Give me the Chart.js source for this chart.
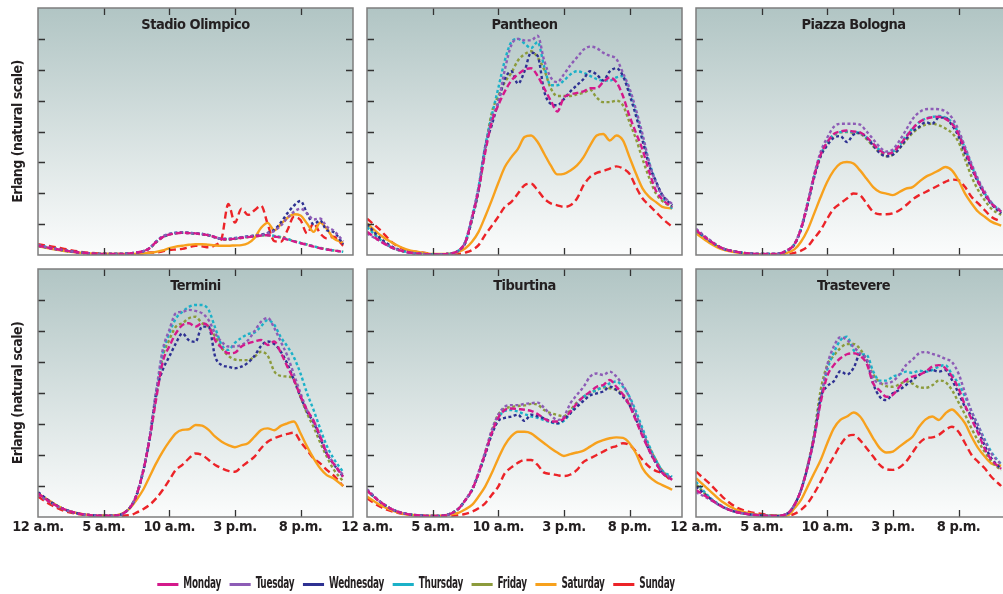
<!DOCTYPE html>
<html>
<head>
<meta charset="utf-8">
<script src="https://cdn.jsdelivr.net/npm/chart.js@4.4.1/dist/chart.umd.min.js"></script>
<style>
  html, body { margin: 0; padding: 0; background: #fff; }
  body { width: 1003px; height: 594px; overflow: hidden; position: relative; }
  canvas { position: absolute; }
</style>
</head>
<body>
<script>
// hour of day for every sample
const hours = [0, 1, 2, 3, 4, 5, 6, 7, 7.5, 8, 8.5, 9, 9.5, 10, 10.5, 11, 11.5, 12, 12.5, 13,
  13.5, 14, 14.5, 15, 15.5, 16, 16.5, 17, 17.5, 18, 18.5, 19, 19.5, 20, 20.5, 21, 21.5, 22, 22.5, 23.25];
const tickHours = [0, 5, 10, 15, 20];
const tickLabels = ['12 a.m.', '5 a.m.', '10 a.m.', '3 p.m.', '8 p.m.'];
const yTicks = [1, 2, 3, 4, 5, 6, 7];

const days = ['Monday', 'Tuesday', 'Wednesday', 'Thursday', 'Friday', 'Saturday', 'Sunday'];
const dayColors = ['#d4198b', '#8d5cb6', '#2e3192', '#1bb1c8', '#8c9b3c', '#f7a11d', '#ec2328'];
const dayDashes = [[6, 3], [3, 2.5], [3, 2.5], [3, 2.5], [3, 2.5], [], [7, 4]];

// Erlang values, one row per day (Monday .. Sunday)
const stadioOlimpico = [
  [0.3,0.22,0.15,0.09,0.05,0.03,0.03,0.05,0.08,0.12, 0.22,0.42,0.58,0.66,0.7,0.72,0.71,0.7,0.67,0.64, 0.58,0.52,0.51,0.53,0.56,0.58,0.6,0.63,0.64,0.6, 0.56,0.5,0.44,0.38,0.33,0.27,0.22,0.18,0.15,0.1],
  [0.31,0.22,0.15,0.09,0.05,0.03,0.03,0.05,0.08,0.12, 0.22,0.43,0.6,0.68,0.72,0.73,0.72,0.7,0.68,0.64, 0.57,0.52,0.52,0.54,0.57,0.6,0.63,0.65,0.7,0.78, 0.95,1.2,1.4,1.5,1.35,1.15,1.18,0.92,0.8,0.45],
  [0.3,0.22,0.15,0.09,0.05,0.03,0.03,0.05,0.08,0.12, 0.22,0.42,0.58,0.67,0.71,0.72,0.71,0.7,0.68,0.64, 0.57,0.52,0.52,0.54,0.57,0.6,0.63,0.66,0.72,0.82, 1.05,1.35,1.6,1.75,1.35,1.0,1.12,0.8,0.75,0.35],
  [0.32,0.23,0.15,0.09,0.05,0.03,0.03,0.05,0.08,0.12, 0.22,0.44,0.6,0.68,0.72,0.74,0.72,0.7,0.68,0.65, 0.58,0.52,0.52,0.55,0.58,0.6,0.62,0.65,0.65,0.62, 0.58,0.52,0.45,0.39,0.34,0.28,0.23,0.18,0.15,0.1],
  [0.3,0.22,0.14,0.09,0.05,0.03,0.03,0.05,0.08,0.12, 0.21,0.41,0.57,0.66,0.7,0.72,0.71,0.69,0.67,0.64, 0.57,0.51,0.5,0.52,0.55,0.58,0.61,0.63,0.64,0.61, 0.57,0.51,0.45,0.39,0.34,0.28,0.23,0.19,0.15,0.11],
  [0.28,0.2,0.13,0.08,0.05,0.03,0.03,0.03,0.04,0.05, 0.07,0.1,0.15,0.22,0.27,0.3,0.33,0.35,0.35,0.33, 0.31,0.3,0.3,0.31,0.32,0.38,0.55,0.88,1.04,0.8, 1.0,1.2,1.32,1.28,1.02,0.75,1.05,0.85,0.55,0.4],
  [0.35,0.28,0.2,0.12,0.07,0.04,0.03,0.03,0.04,0.05, 0.08,0.08,0.12,0.16,0.18,0.2,0.25,0.3,0.28,0.25, 0.32,0.55,1.65,1.05,1.5,1.3,1.45,1.6,1.0,0.45, 0.43,0.8,1.24,1.13,0.7,1.02,0.7,0.54,0.59,0.3]
];
const pantheon = [
  [0.75,0.45,0.22,0.1,0.04,0.02,0.03,0.15,0.42,1.2, 2.1,3.3,4.3,4.85,5.3,5.65,5.85,6.0,6.05,5.8, 5.4,5.0,4.65,5.1,5.2,5.25,5.3,5.4,5.4,5.6, 5.75,5.6,5.15,4.5,3.95,3.4,2.7,2.1,1.8,1.55],
  [0.7,0.45,0.22,0.1,0.04,0.02,0.03,0.15,0.45,1.25, 2.2,3.45,4.4,4.95,6.0,6.8,7.0,6.95,6.95,7.1, 6.3,5.75,5.6,5.85,6.15,6.4,6.65,6.75,6.7,6.55, 6.45,6.35,5.9,5.4,4.7,3.9,3.0,2.35,1.95,1.65],
  [1.0,0.55,0.25,0.1,0.04,0.02,0.03,0.15,0.4,1.15, 2.1,3.5,4.2,4.95,5.7,5.95,5.55,5.95,6.55,6.45, 5.3,4.9,4.85,5.05,5.3,5.5,5.7,5.95,5.85,5.65, 5.95,6.05,5.8,5.2,4.5,3.7,2.9,2.4,1.95,1.6],
  [0.9,0.5,0.22,0.1,0.04,0.02,0.03,0.15,0.45,1.2, 2.2,3.5,4.5,5.4,6.3,6.9,7.0,6.85,6.7,6.9, 6.1,5.5,5.5,5.65,5.85,5.95,5.9,5.8,5.7,5.65, 5.65,5.75,5.8,5.3,4.6,3.8,3.0,2.4,1.9,1.5],
  [0.95,0.5,0.22,0.1,0.04,0.02,0.03,0.15,0.4,1.15, 2.1,3.4,4.6,5.15,5.6,5.9,6.3,6.5,6.6,6.4, 6.0,5.4,5.15,5.15,5.15,5.2,5.25,5.35,5.1,4.95, 4.95,5.0,4.85,4.3,3.75,3.1,2.5,2.0,1.75,1.55],
  [1.02,0.65,0.38,0.18,0.09,0.03,0.03,0.11,0.22,0.43, 0.75,1.24,1.77,2.33,2.85,3.17,3.44,3.82,3.87,3.66, 3.28,2.9,2.61,2.63,2.74,2.9,3.17,3.55,3.87,3.92, 3.71,3.87,3.71,3.17,2.63,2.15,1.88,1.72,1.56,1.51],
  [1.18,0.81,0.38,0.16,0.09,0.03,0.0,0.03,0.08,0.16, 0.32,0.65,0.94,1.24,1.56,1.72,1.99,2.26,2.31,2.1, 1.83,1.67,1.61,1.56,1.61,1.83,2.26,2.53,2.66,2.72, 2.8,2.87,2.8,2.63,2.2,1.83,1.61,1.4,1.18,0.91]
];
const piazzaBologna = [
  [0.8,0.48,0.22,0.11,0.05,0.03,0.03,0.16,0.35,0.85, 1.65,2.55,3.25,3.65,3.92,4.0,4.03,4.0,3.97,3.82, 3.6,3.39,3.28,3.33,3.55,3.82,4.09,4.3,4.41,4.46, 4.48,4.41,4.25,3.92,3.39,2.85,2.37,1.99,1.67,1.4],
  [0.85,0.5,0.22,0.11,0.05,0.03,0.03,0.16,0.36,0.88, 1.7,2.6,3.35,3.8,4.15,4.25,4.25,4.25,4.22,4.0, 3.75,3.5,3.35,3.42,3.7,4.05,4.4,4.62,4.72,4.73, 4.72,4.65,4.45,4.05,3.5,2.95,2.45,2.05,1.7,1.42],
  [0.82,0.48,0.22,0.11,0.05,0.03,0.03,0.16,0.34,0.83, 1.62,2.5,3.2,3.55,3.8,3.85,3.66,3.9,3.95,3.8, 3.55,3.3,3.2,3.25,3.45,3.75,4.0,4.15,4.3,4.25, 4.45,4.45,4.2,3.85,3.3,2.8,2.35,1.95,1.65,1.35],
  [0.78,0.47,0.22,0.11,0.05,0.03,0.03,0.16,0.35,0.85, 1.65,2.55,3.25,3.65,3.9,3.98,4.0,3.98,3.95,3.8, 3.6,3.4,3.3,3.35,3.55,3.85,4.1,4.3,4.42,4.47, 4.5,4.45,4.3,3.95,3.45,2.9,2.4,2.0,1.7,1.4],
  [0.8,0.48,0.22,0.11,0.05,0.03,0.03,0.16,0.35,0.85, 1.65,2.55,3.22,3.62,3.88,3.97,3.98,3.96,3.93,3.75, 3.52,3.32,3.2,3.25,3.45,3.7,3.95,4.12,4.22,4.25, 4.2,4.1,3.95,3.66,3.1,2.53,2.1,1.77,1.5,1.3],
  [0.7,0.4,0.18,0.09,0.03,0.02,0.02,0.08,0.18,0.43, 0.81,1.34,1.88,2.37,2.74,2.96,3.01,2.96,2.74,2.47, 2.2,2.04,1.99,1.94,2.04,2.15,2.2,2.37,2.53,2.63, 2.74,2.85,2.74,2.42,1.99,1.67,1.4,1.24,1.08,0.95],
  [0.75,0.43,0.22,0.11,0.05,0.02,0.0,0.03,0.07,0.14, 0.27,0.54,0.81,1.18,1.5,1.67,1.83,1.99,1.94,1.67, 1.4,1.32,1.32,1.35,1.45,1.61,1.8,1.94,2.04,2.15, 2.26,2.37,2.44,2.42,2.2,1.88,1.67,1.45,1.24,1.08]
];
const termini = [
  [0.76,0.46,0.25,0.12,0.06,0.04,0.05,0.3,0.7,1.45, 2.5,3.8,5.0,5.5,5.92,6.19,6.25,6.14,6.25,6.14, 5.7,5.45,5.28,5.3,5.5,5.6,5.66,5.71,5.55,5.66, 5.3,4.85,4.42,3.9,3.45,3.1,2.6,2.05,1.73,1.3],
  [0.72,0.45,0.25,0.12,0.06,0.04,0.05,0.3,0.72,1.5, 2.6,4.05,5.39,6.03,6.57,6.62,6.68,6.65,6.57,6.35, 5.92,5.65,5.5,5.5,5.55,5.7,6.0,6.3,6.42,6.1, 5.65,5.2,4.6,4.0,3.45,3.1,2.6,2.1,1.75,1.35],
  [0.8,0.48,0.25,0.12,0.06,0.04,0.05,0.3,0.7,1.45, 2.5,4.0,4.74,5.17,5.6,5.92,5.7,5.65,6.14,6.14, 5.17,4.9,4.85,4.8,4.85,4.98,5.2,5.52,5.66,5.58, 5.33,4.94,4.42,3.88,3.4,3.05,2.55,2.05,1.72,1.3],
  [0.78,0.47,0.25,0.12,0.06,0.04,0.05,0.3,0.7,1.45, 2.55,3.9,5.28,5.92,6.4,6.62,6.78,6.84,6.84,6.68, 6.1,5.55,5.39,5.62,5.78,5.9,5.95,6.15,6.35,6.2, 5.8,5.5,5.15,4.63,3.99,3.45,2.85,2.3,1.9,1.45],
  [0.74,0.45,0.24,0.12,0.06,0.04,0.05,0.3,0.7,1.45, 2.55,3.9,5.17,5.71,6.14,6.25,6.41,6.46,6.25,6.14, 5.82,5.45,5.2,5.08,5.06,5.06,5.17,5.33,5.2,4.7, 4.55,4.53,4.45,3.88,3.34,2.9,2.4,1.95,1.55,1.15],
  [0.76,0.49,0.25,0.12,0.06,0.04,0.06,0.28,0.55,0.87, 1.3,1.73,2.11,2.43,2.7,2.81,2.83,2.97,2.95,2.81, 2.59,2.43,2.32,2.25,2.32,2.38,2.59,2.81,2.86,2.8, 2.94,3.02,3.08,2.7,2.27,1.89,1.57,1.35,1.25,1.0],
  [0.66,0.39,0.2,0.1,0.05,0.04,0.04,0.06,0.14,0.25, 0.39,0.6,0.87,1.19,1.52,1.68,1.89,2.05,2.0,1.84, 1.68,1.57,1.49,1.46,1.62,1.78,1.95,2.22,2.43,2.54, 2.62,2.68,2.72,2.43,2.16,1.89,1.73,1.52,1.35,1.0]
];
const tiburtina = [
  [0.85,0.49,0.23,0.1,0.05,0.03,0.06,0.28,0.55,0.87, 1.41,2.05,2.7,3.2,3.45,3.5,3.48,3.46,3.42,3.32, 3.18,3.08,3.08,3.18,3.4,3.67,3.88,4.04,4.2,4.26, 4.42,4.2,3.95,3.6,3.1,2.6,2.15,1.75,1.42,1.2],
  [0.9,0.5,0.23,0.1,0.05,0.03,0.06,0.28,0.55,0.9, 1.45,2.1,2.8,3.3,3.56,3.61,3.61,3.65,3.67,3.69, 3.52,3.29,3.13,3.24,3.67,3.94,4.2,4.53,4.63,4.58, 4.69,4.53,4.25,3.85,3.3,2.75,2.2,1.8,1.45,1.25],
  [0.87,0.49,0.23,0.1,0.05,0.03,0.06,0.28,0.55,0.87, 1.4,2.0,2.65,3.1,3.2,3.24,3.3,3.1,3.3,3.25, 3.18,3.08,3.02,3.15,3.35,3.56,3.75,3.92,3.99,4.05, 4.2,4.1,3.88,3.61,3.15,2.65,2.15,1.75,1.42,1.25],
  [0.85,0.49,0.23,0.1,0.05,0.03,0.06,0.28,0.55,0.87, 1.41,2.05,2.7,3.2,3.42,3.45,3.4,3.32,3.25,3.2, 3.12,3.05,3.02,3.1,3.35,3.65,3.88,4.0,4.1,4.2, 4.31,4.37,4.2,3.88,3.4,2.85,2.3,1.85,1.5,1.3],
  [0.85,0.49,0.23,0.1,0.05,0.03,0.06,0.28,0.55,0.87, 1.41,2.05,2.75,3.3,3.5,3.55,3.58,3.6,3.65,3.62, 3.45,3.35,3.29,3.25,3.45,3.7,3.88,3.99,4.1,4.18, 4.15,4.1,3.95,3.65,3.24,2.75,2.25,1.85,1.5,1.2],
  [0.66,0.39,0.2,0.08,0.05,0.03,0.06,0.14,0.25,0.39, 0.66,0.98,1.41,1.89,2.32,2.61,2.75,2.75,2.7,2.54, 2.38,2.22,2.08,1.97,2.03,2.08,2.14,2.27,2.4,2.48, 2.54,2.57,2.55,2.38,2.05,1.57,1.3,1.14,1.03,0.88],
  [0.6,0.33,0.17,0.08,0.05,0.03,0.03,0.06,0.1,0.17, 0.28,0.44,0.71,0.98,1.41,1.6,1.75,1.84,1.84,1.68, 1.43,1.39,1.35,1.32,1.37,1.52,1.78,1.89,2.0,2.11, 2.22,2.29,2.38,2.32,2.11,1.84,1.62,1.49,1.41,1.15]
];
const trastevere = [
  [0.87,0.6,0.33,0.17,0.09,0.05,0.03,0.12,0.39,0.87, 1.62,2.55,3.7,4.55,4.9,5.12,5.25,5.28,5.2,4.95, 4.31,4.08,3.88,3.94,4.2,4.42,4.53,4.58,4.69,4.85, 4.9,4.8,4.53,4.15,3.6,3.15,2.7,2.2,1.85,1.55],
  [0.8,0.58,0.33,0.17,0.09,0.05,0.03,0.12,0.39,0.87, 1.62,2.6,3.75,4.9,5.5,5.8,5.71,5.49,5.28,5.1, 4.5,4.31,4.31,4.38,4.6,4.9,5.08,5.28,5.32,5.26, 5.2,5.1,5.0,4.63,4.0,3.4,2.95,2.45,2.05,1.7],
  [0.98,0.62,0.33,0.17,0.09,0.05,0.03,0.12,0.39,0.87, 1.6,2.55,3.85,4.22,4.38,4.7,4.6,4.8,5.25,5.06, 4.3,3.88,3.77,3.99,4.1,4.26,4.42,4.58,4.69,4.74, 4.69,4.74,4.42,4.0,3.55,3.25,2.8,2.3,1.9,1.55],
  [1.14,0.65,0.35,0.17,0.09,0.05,0.03,0.12,0.39,0.87, 1.62,2.6,3.8,4.75,5.3,5.7,5.82,5.39,5.25,5.23, 4.7,4.4,4.4,4.53,4.6,4.69,4.65,4.72,4.69,4.74, 4.85,4.9,4.6,4.3,3.88,3.4,2.95,2.5,2.1,1.7],
  [1.05,0.63,0.34,0.17,0.09,0.05,0.03,0.12,0.39,0.87, 1.65,2.7,4.1,4.9,5.2,5.45,5.58,5.58,5.42,5.06, 4.6,4.35,4.22,4.2,4.28,4.38,4.3,4.18,4.17,4.25, 4.4,4.35,4.1,3.7,3.3,2.85,2.45,2.1,1.8,1.5],
  [1.25,0.87,0.49,0.25,0.12,0.06,0.04,0.06,0.28,0.55, 0.98,1.41,1.84,2.38,2.86,3.13,3.24,3.37,3.24,2.91, 2.54,2.22,2.08,2.11,2.27,2.43,2.59,2.91,3.15,3.24, 3.13,3.34,3.47,3.29,3.02,2.59,2.22,1.95,1.73,1.65],
  [1.46,1.09,0.66,0.33,0.17,0.1,0.05,0.05,0.1,0.23, 0.44,0.76,1.14,1.57,1.95,2.32,2.59,2.65,2.48,2.22, 1.95,1.68,1.54,1.52,1.6,1.78,2.08,2.38,2.54,2.57, 2.65,2.81,2.91,2.75,2.38,2.0,1.78,1.57,1.3,1.0]
];

const panels = [
  { title: 'Stadio Olimpico', values: stadioOlimpico },
  { title: 'Pantheon', values: pantheon },
  { title: 'Piazza Bologna', values: piazzaBologna },
  { title: 'Termini', values: termini },
  { title: 'Tiburtina', values: tiburtina },
  { title: 'Trastevere', values: trastevere }
];

const FONT = "'Liberation Sans Narrow', 'DejaVu Sans Condensed', 'Arial Narrow', sans-serif";
const TEXT = '#231f20';
const colLeft = [38, 367, 696];
const rowTop = [8, 269];
const plotH = [247, 248];
const plotW = 315;
const legendSqueeze = 0.66;

// tighter letter spacing to get closer to the condensed type of the original
const condense = {
  id: 'condense',
  beforeLayout(chart, args, opts) { chart.ctx.letterSpacing = opts.spacing; },
  beforeDraw(chart, args, opts) { chart.ctx.letterSpacing = opts.spacing; }
};

// narrows the legend horizontally around the canvas centre
const squeeze = {
  id: 'squeeze',
  beforeDraw(chart, args, opts) {
    const cx = chart.width / 2;
    chart.ctx.setTransform(opts.factor, 0, 0, 1, cx * (1 - opts.factor), 0);
  },
  afterDraw(chart) { chart.ctx.setTransform(1, 0, 0, 1, 0, 0); }
};

// background gradient, inward tick marks, frame and the station name
const panelPlugin = {
  id: 'panel',
  beforeDatasetsDraw(chart) {
    const { ctx, chartArea: a } = chart;
    const g = ctx.createLinearGradient(0, a.top, 0, a.bottom);
    g.addColorStop(0, '#b1c5c4');
    g.addColorStop(1, '#fbfcfc');
    ctx.save();
    ctx.fillStyle = g;
    ctx.fillRect(a.left, a.top, a.right - a.left, a.bottom - a.top);
    ctx.restore();
  },
  afterDatasetsDraw(chart, args, opts) {
    const { ctx, chartArea: a, scales } = chart;
    ctx.save();
    ctx.strokeStyle = '#333';
    ctx.lineWidth = 1.3;
    ctx.beginPath();
    yTicks.forEach(v => {
      const y = Math.round(scales.y.getPixelForValue(v)) + 0.5;
      ctx.moveTo(a.left, y); ctx.lineTo(a.left + 7, y);
      ctx.moveTo(a.right, y); ctx.lineTo(a.right - 7, y);
    });
    tickHours.slice(1).forEach(h => {
      const x = Math.round(scales.x.getPixelForValue(h)) + 0.5;
      ctx.moveTo(x, a.top); ctx.lineTo(x, a.top + 7);
      ctx.moveTo(x, a.bottom); ctx.lineTo(x, a.bottom - 7);
    });
    ctx.stroke();
    ctx.strokeStyle = '#7d7d7d';
    ctx.lineWidth = 1.5;
    ctx.strokeRect(a.left, a.top, a.right - a.left, a.bottom - a.top);
    ctx.fillStyle = TEXT;
    ctx.font = 'bold 14.5px ' + FONT;
    ctx.textAlign = 'center';
    ctx.textBaseline = 'alphabetic';
    ctx.fillText(opts.title, (a.left + a.right) / 2, a.top + 21);
    ctx.restore();
  }
};

panels.forEach((p, i) => {
  const row = Math.floor(i / 3), col = i % 3;
  const cv = document.createElement('canvas');
  cv.width = 38 + plotW + 8;
  cv.height = 8 + plotH[row] + 30;
  cv.style.left = (colLeft[col] - 38) + 'px';
  cv.style.top = (rowTop[row] - 8) + 'px';
  document.body.appendChild(cv);

  new Chart(cv, {
    type: 'line',
    data: {
      datasets: days.map((d, k) => ({
        label: d,
        data: p.values[k].map((v, j) => ({ x: hours[j], y: v })),
        borderColor: dayColors[k],
        borderDash: dayDashes[k],
        borderWidth: 2.4,
        pointRadius: 0,
        fill: false,
        cubicInterpolationMode: 'monotone'
      }))
    },
    options: {
      responsive: false,
      devicePixelRatio: 1,
      animation: false,
      events: [],
      layout: { padding: { top: 8, right: 8, left: 0, bottom: 0 } },
      plugins: {
        legend: { display: false },
        tooltip: { enabled: false },
        panel: { title: p.title },
        condense: { spacing: '-0.5px' }
      },
      scales: {
        x: {
          type: 'linear', min: 0, max: 24,
          grid: { display: false, drawTicks: false },
          border: { display: false },
          afterBuildTicks: s => { s.ticks = tickHours.map(v => ({ value: v })); },
          afterFit: s => { s.height = 30; },
          ticks: {
            display: row === 1,
            autoSkip: false, maxRotation: 0, padding: 2,
            color: TEXT,
            font: { family: FONT, size: 14.5, weight: 'bold' },
            callback: v => tickLabels[tickHours.indexOf(v)]
          }
        },
        y: {
          min: 0, max: 8,
          grid: { display: false, drawTicks: false },
          border: { display: false },
          ticks: { display: false },
          afterFit: s => { s.width = 38; },
          title: {
            display: col === 0,
            text: 'Erlang (natural scale)',
            color: TEXT,
            font: { family: FONT, size: 14, weight: 'bold' },
            padding: { top: 10, bottom: 0 }
          }
        }
      }
    },
    plugins: [condense, panelPlugin]
  });
});

// shared legend along the bottom
const lg = document.createElement('canvas');
lg.width = 832;
lg.height = 60;
lg.style.left = '0px';
lg.style.top = '564px';
document.body.appendChild(lg);
new Chart(lg, {
  type: 'line',
  data: {
    datasets: days.map((d, k) => ({
      label: d,
      data: [],
      borderColor: dayColors[k],
      backgroundColor: dayColors[k],
      borderDash: dayDashes[k].map(v => v / legendSqueeze),
      borderWidth: 3,
      pointStyle: 'line'
    }))
  },
  options: {
    responsive: false,
    devicePixelRatio: 1,
    animation: false,
    events: [],
    layout: { padding: 0 },
    scales: { x: { display: false }, y: { display: false } },
    plugins: {
      tooltip: { enabled: false },
      condense: { spacing: '-0.4px' },
      squeeze: { factor: legendSqueeze },
      legend: {
        display: true,
        position: 'top',
        labels: {
          usePointStyle: true,
          pointStyleWidth: 32,
          padding: 13,
          color: TEXT,
          font: { family: FONT, size: 15, weight: 'bold' }
        }
      }
    }
  },
  plugins: [condense, squeeze]
});
</script>
</body>
</html>
